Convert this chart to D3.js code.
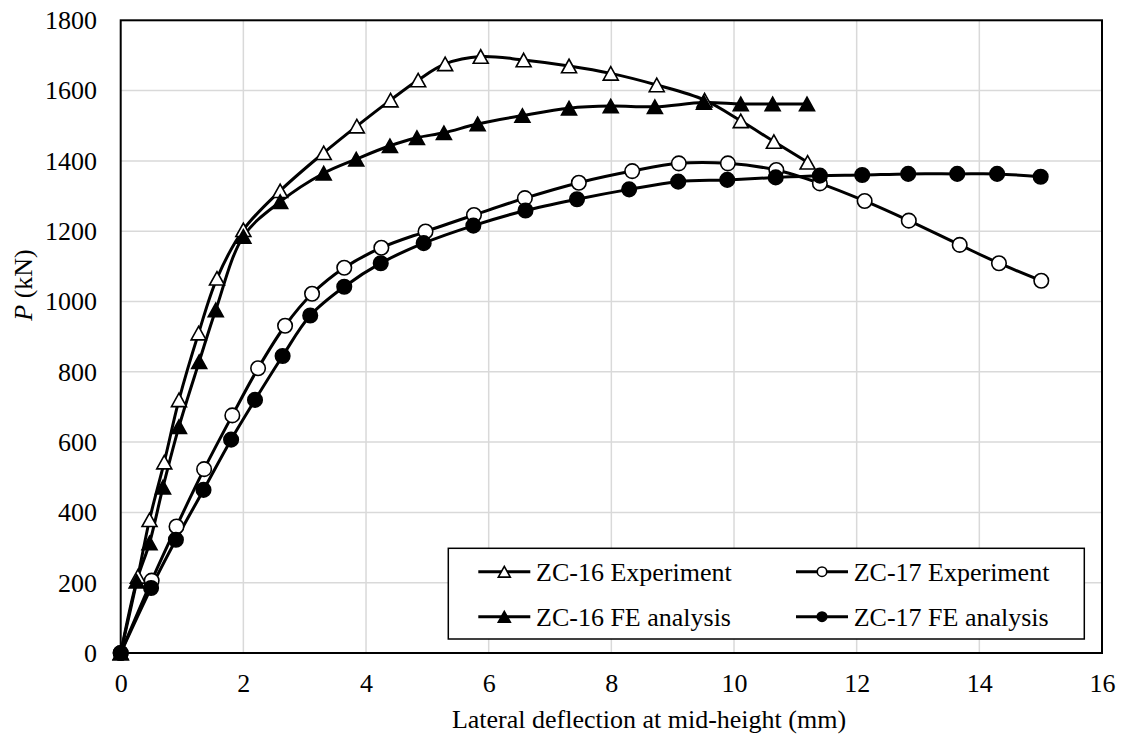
<!DOCTYPE html>
<html>
<head>
<meta charset="utf-8">
<script src="https://cdn.jsdelivr.net/npm/d3@7"></script>
<style>
  html, body { margin: 0; padding: 0; background: #fff; }
  svg { display: block; }
  text { font-family: "Liberation Serif", "Times New Roman", serif; fill: #000; }
</style>
</head>
<body>
<svg id="chart" width="1123" height="735"></svg>
<script>
// ---- data ----
const zc16ExpX = [0, 0.28, 0.47, 0.71, 0.95, 1.27, 1.57, 2.0, 2.6, 3.31, 3.85, 4.4, 4.85, 5.29, 5.87, 6.57, 7.31, 7.99, 8.74, 9.52, 10.11, 10.65, 11.2];
const zc16ExpP = [0, 218, 379, 543, 720, 910, 1066, 1204, 1315, 1423, 1499, 1573, 1630, 1676, 1697, 1687, 1670, 1649, 1616, 1573, 1514, 1455, 1396];

const zc16FeX = [0, 0.26, 0.47, 0.69, 0.95, 1.28, 1.55, 2.0, 2.6, 3.31, 3.84, 4.39, 4.83, 5.27, 5.82, 6.55, 7.31, 7.99, 8.71, 9.51, 10.11, 10.63, 11.19];
const zc16FeP = [0, 204, 313, 472, 644, 829, 976, 1185, 1284, 1365, 1405, 1443, 1466, 1480, 1505, 1529, 1550, 1556, 1554, 1566, 1562, 1562, 1562];

const zc17ExpX = [0, 0.505, 0.91, 1.36, 1.82, 2.24, 2.68, 3.12, 3.645, 4.25, 4.97, 5.76, 6.59, 7.47, 8.34, 9.10, 9.90, 10.69, 11.40, 12.13, 12.85, 13.68, 14.32, 15.01];
const zc17ExpP = [0, 206, 360, 523, 676, 810, 931, 1022, 1096, 1153, 1199, 1246, 1294, 1338, 1371, 1393, 1393, 1374, 1336, 1286, 1230, 1161, 1109, 1059];

const zc17FeX = [0, 0.495, 0.90, 1.35, 1.80, 2.19, 2.64, 3.09, 3.645, 4.24, 4.94, 5.75, 6.60, 7.44, 8.29, 9.09, 9.89, 10.68, 11.40, 12.09, 12.84, 13.64, 14.29, 15.0];
const zc17FeP = [0, 185, 322, 464, 607, 720, 845, 960, 1042, 1109, 1166, 1216, 1259, 1291, 1319, 1341, 1346, 1353, 1358, 1360, 1363, 1363, 1363, 1355];

const seriesNames = ["ZC-16 Experiment", "ZC-17 Experiment", "ZC-16 FE analysis", "ZC-17 FE analysis"];
const xTicks = [0, 2, 4, 6, 8, 10, 12, 14, 16];
const yTicks = [0, 200, 400, 600, 800, 1000, 1200, 1400, 1600, 1800];
const xTitle = "Lateral deflection at mid-height (mm)";

// ---- layout ----
const svg = d3.select("#chart");
const L = 120.7, R = 1102, T = 20.3, B = 653;
const FS = 26;
const FONT = "Liberation Serif";

const x = d3.scaleLinear().domain([0, 16]).range([L, R]);
const y = d3.scaleLinear().domain([0, 1800]).range([B, T]);

// gridlines
const grid = svg.append("g");
grid.selectAll("line.gx").data(xTicks.slice(1, -1)).enter().append("line")
  .attr("x1", d => x(d)).attr("x2", d => x(d)).attr("y1", T).attr("y2", B)
  .attr("stroke", "#d9d9d9").attr("stroke-width", 1.5);
grid.selectAll("line.gy").data(yTicks.slice(1, -1)).enter().append("line")
  .attr("x1", L).attr("x2", R).attr("y1", d => y(d)).attr("y2", d => y(d))
  .attr("stroke", "#d9d9d9").attr("stroke-width", 1.5);

// axes (labels via d3 axis)
const xAxis = svg.append("g").attr("transform", `translate(0,${B})`)
  .call(d3.axisBottom(x).tickValues(xTicks).tickSize(0).tickPadding(20.5).tickFormat(d3.format("d")));
xAxis.select(".domain").remove();
xAxis.selectAll("text").style("font-size", FS + "px").style("font-family", FONT);

const yAxis = svg.append("g").attr("transform", `translate(${L},0)`)
  .call(d3.axisLeft(y).tickValues(yTicks).tickSize(0).tickPadding(23.7).tickFormat(d3.format("d")));
yAxis.select(".domain").remove();
yAxis.selectAll("text").style("font-size", FS + "px").style("font-family", FONT);

// frame
svg.append("rect").attr("x", L).attr("y", T).attr("width", R - L).attr("height", B - T)
  .attr("fill", "none").attr("stroke", "#000").attr("stroke-width", 2);

// titles
svg.append("text").attr("x", 649).attr("y", 728).attr("text-anchor", "middle")
  .style("font-size", FS + "px").style("font-family", FONT).text(xTitle);
const yt = svg.append("text").attr("transform", `translate(32,285) rotate(-90)`)
  .attr("text-anchor", "middle").style("font-size", FS + "px").style("font-family", FONT);
yt.append("tspan").style("font-style", "italic").text("P");
yt.append("tspan").text(" (kN)");

// series
const series = [
  { name: seriesNames[0], xs: zc16ExpX, ps: zc16ExpP, shape: "tri", fill: "#fff" },
  { name: seriesNames[2], xs: zc16FeX, ps: zc16FeP, shape: "tri", fill: "#000" },
  { name: seriesNames[1], xs: zc17ExpX, ps: zc17ExpP, shape: "circ", fill: "#fff" },
  { name: seriesNames[3], xs: zc17FeX, ps: zc17FeP, shape: "circ", fill: "#000" }
];

const line = d3.line().x(d => x(d[0])).y(d => y(d[1])).curve(d3.curveCatmullRom.alpha(0.5));

const plot = svg.append("g");
function marker(g, shape, fill, cx, cy, size) {
  if (shape === "tri") {
    const w = size, h = size * 0.9;
    g.append("path")
      .attr("d", `M${cx},${cy - h / 2} L${cx + w / 2},${cy + h / 2} L${cx - w / 2},${cy + h / 2} Z`)
      .attr("fill", fill).attr("stroke", "#000").attr("stroke-width", 1.6);
  } else {
    g.append("circle").attr("cx", cx).attr("cy", cy).attr("r", size / 2)
      .attr("fill", fill).attr("stroke", "#000").attr("stroke-width", 1.6);
  }
}

series.forEach(s => {
  const pts = s.xs.map((v, i) => [v, s.ps[i]]);
  plot.append("path").datum(pts).attr("d", line)
    .attr("fill", "none").attr("stroke", "#000").attr("stroke-width", 3);
});
series.forEach(s => {
  const g = plot.append("g");
  s.xs.forEach((v, i) => marker(g, s.shape, s.fill, x(v), y(s.ps[i]), s.shape === "tri" ? 15 : 14.5));
});

// legend
const lg = svg.append("g");
lg.append("rect").attr("x", 448.3).attr("y", 548.3).attr("width", 1084.3 - 448.3).attr("height", 639 - 548.3)
  .attr("fill", "#fff").attr("stroke", "#000").attr("stroke-width", 1.5);
const legendItems = [
  { s: series[0], lx: 478.3, row: 0 },
  { s: series[1], lx: 478.3, row: 1 },
  { s: series[2], lx: 796, row: 0 },
  { s: series[3], lx: 796, row: 1 }
];
legendItems.forEach(it => {
  const cy = it.row === 0 ? 571.7 : 616.7;
  lg.append("line").attr("x1", it.lx).attr("x2", it.lx + 52).attr("y1", cy).attr("y2", cy)
    .attr("stroke", "#000").attr("stroke-width", 3);
  marker(lg, it.s.shape, it.s.fill, it.lx + 26, cy, it.s.shape === "tri" ? 12 : 9.5);
  lg.append("text").attr("x", it.lx + 57.7).attr("y", cy).attr("dy", "0.35em")
    .style("font-size", FS + "px").style("font-family", FONT).text(it.s.name);
});
</script>
</body>
</html>
